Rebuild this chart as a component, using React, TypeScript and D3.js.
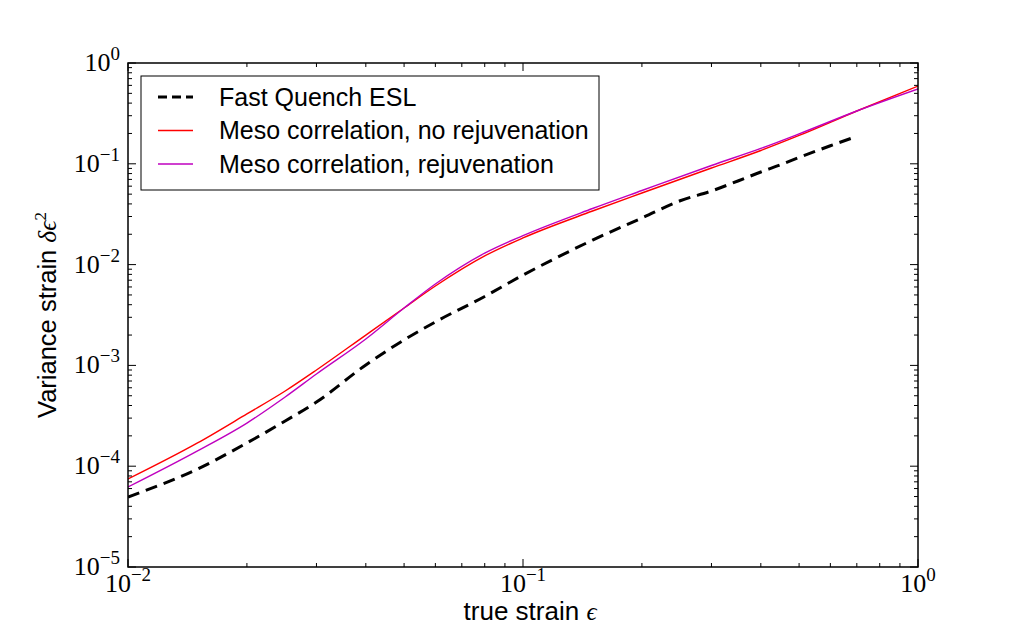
import React from "react";
import * as d3 from "d3";

const strain = [0.01, 0.015, 0.02, 0.025, 0.03, 0.04, 0.05, 0.06, 0.08, 0.1, 0.15, 0.2, 0.3, 0.4, 0.5, 0.7, 1.0];
const mesoNoRejuv = [7.46e-5, 1.7e-4, 3.3e-4, 5.57e-4, 9.0e-4, 2.0e-3, 3.71e-3, 6.13e-3, 1.22e-2, 1.84e-2, 3.4e-2, 5.13e-2, 9.08e-2, 0.1355, 0.191, 0.334, 0.591];
const mesoRejuv = [6.22e-5, 1.42e-4, 2.68e-4, 4.86e-4, 8.22e-4, 1.83e-3, 3.71e-3, 6.42e-3, 1.3e-2, 1.94e-2, 3.6e-2, 5.43e-2, 9.62e-2, 0.142, 0.198, 0.334, 0.552];

const esqStrain = [0.01, 0.015, 0.02, 0.025, 0.03, 0.04, 0.05, 0.06, 0.08, 0.1, 0.12, 0.15, 0.2, 0.25, 0.3, 0.35, 0.4, 0.45, 0.5, 0.6, 0.68];
const fastQuench = [4.95e-5, 9.38e-5, 1.7e-4, 2.81e-4, 4.33e-4, 1.01e-3, 1.79e-3, 2.7e-3, 4.83e-3, 7.88e-3, 1.14e-2, 1.75e-2, 2.9e-2, 4.3e-2, 5.37e-2, 6.75e-2, 8.29e-2, 9.82e-2, 0.1155, 0.151, 0.18];

const xTickExp = [-2, -1, 0];
const yTickExp = [-5, -4, -3, -2, -1, 0];

const legendLabels = ["Fast Quench ESL", "Meso correlation, no rejuvenation", "Meso correlation, rejuvenation"];

const W = 1019, H = 630;
const L = 128, R = 918, T = 63, B = 567;

const x = d3.scaleLog().domain([0.01, 1]).range([L, R]);
const y = d3.scaleLog().domain([1e-5, 1]).range([B, T]);

const serif = "'Liberation Serif', 'DejaVu Serif', serif";
const sans = "'Liberation Sans', Arial, sans-serif";

function minorTicks(lo: number, hi: number) {
  const out: number[] = [];
  for (let e = lo; e < hi; e++) {
    for (let m = 2; m <= 9; m++) out.push(m * Math.pow(10, e));
  }
  return out;
}

export default function App() {
  const line = d3.line<[number, number]>().x((d) => x(d[0])).y((d) => y(d[1])).curve(d3.curveMonotoneX);
  const red = line(strain.map((s, i) => [s, mesoNoRejuv[i]] as [number, number])) || "";
  const mag = line(strain.map((s, i) => [s, mesoRejuv[i]] as [number, number])) || "";
  const dash = line(esqStrain.map((s, i) => [s, fastQuench[i]] as [number, number])) || "";

  const xMinor = minorTicks(-2, 0);
  const yMinor = minorTicks(-5, 0);
  const maj = 8, mn = 4;

  return (
    <svg width={W} height={H} style={{ position: "absolute", left: 0, top: 0, background: "#fff" }}>
      <rect x={0} y={0} width={W} height={H} fill="#fff" />
      <defs>
        <clipPath id="plot">
          <rect x={L} y={T} width={R - L} height={B - T} />
        </clipPath>
      </defs>
      <g clipPath="url(#plot)">
        <path d={dash} fill="none" stroke="#000" strokeWidth={3} strokeDasharray="12 7" />
        <path d={red} fill="none" stroke="#ff0000" strokeWidth={1.4} />
        <path d={mag} fill="none" stroke="#bf00bf" strokeWidth={1.4} />
      </g>

      {/* ticks */}
      <g stroke="#000" strokeWidth={1}>
        {xTickExp.map((e) => {
          const px = x(Math.pow(10, e));
          return (
            <g key={"xm" + e}>
              <line x1={px} x2={px} y1={B} y2={B - maj} />
              <line x1={px} x2={px} y1={T} y2={T + maj} />
            </g>
          );
        })}
        {xMinor.map((v, i) => {
          const px = x(v);
          return (
            <g key={"xn" + i}>
              <line x1={px} x2={px} y1={B} y2={B - mn} />
              <line x1={px} x2={px} y1={T} y2={T + mn} />
            </g>
          );
        })}
        {yTickExp.map((e) => {
          const py = y(Math.pow(10, e));
          return (
            <g key={"ym" + e}>
              <line x1={L} x2={L + maj} y1={py} y2={py} />
              <line x1={R} x2={R - maj} y1={py} y2={py} />
            </g>
          );
        })}
        {yMinor.map((v, i) => {
          const py = y(v);
          return (
            <g key={"yn" + i}>
              <line x1={L} x2={L + mn} y1={py} y2={py} />
              <line x1={R} x2={R - mn} y1={py} y2={py} />
            </g>
          );
        })}
      </g>

      <rect x={L} y={T} width={R - L} height={B - T} fill="none" stroke="#000" strokeWidth={1.5} />

      {/* tick labels */}
      <g fontFamily={serif} fill="#000">
        {xTickExp.map((e) => (
          <text key={"xl" + e} x={x(Math.pow(10, e))} y={B + 25} textAnchor="middle" fontSize={26}>
            <tspan>10</tspan>
            <tspan dy={-11} fontSize={19}>{e < 0 ? "\u2212" + Math.abs(e) : String(e)}</tspan>
          </text>
        ))}
        {yTickExp.map((e) => (
          <text key={"yl" + e} x={120} y={y(Math.pow(10, e)) + 8} textAnchor="end" fontSize={26}>
            <tspan>10</tspan>
            <tspan dy={-11} fontSize={19}>{e < 0 ? "\u2212" + Math.abs(e) : String(e)}</tspan>
          </text>
        ))}
      </g>

      {/* axis labels */}
      <text x={530} y={620} textAnchor="middle" fontFamily={sans} fontSize={26} fill="#000">
        true strain <tspan fontFamily={serif} fontStyle="italic" fontSize={25}>ϵ</tspan>
      </text>
      <text transform={`translate(56,${(T + B) / 2}) rotate(-90)`} textAnchor="middle" fontFamily={sans} fontSize={25.5} fill="#000">
        Variance strain <tspan fontFamily={serif} fontStyle="italic">δϵ</tspan>
        <tspan fontFamily={serif} fontSize={17} dy={-10}>2</tspan>
      </text>

      {/* legend */}
      <g>
        <rect x={141} y={76} width={458} height={114} fill="#fff" stroke="#000" strokeWidth={1} />
        {legendLabels.map((lab, i) => {
          const ly = 97 + i * 33.5;
          const stroke = i === 0 ? "#000" : i === 1 ? "#ff0000" : "#bf00bf";
          return (
            <g key={lab}>
              <line x1={158} x2={193} y1={ly} y2={ly} stroke={stroke} strokeWidth={i === 0 ? 3 : 1.4} strokeDasharray={i === 0 ? "9 5" : undefined} />
              <text x={219} y={ly + 8.5} fontFamily={sans} fontSize={25} fill="#000">{lab}</text>
            </g>
          );
        })}
      </g>
    </svg>
  );
}
